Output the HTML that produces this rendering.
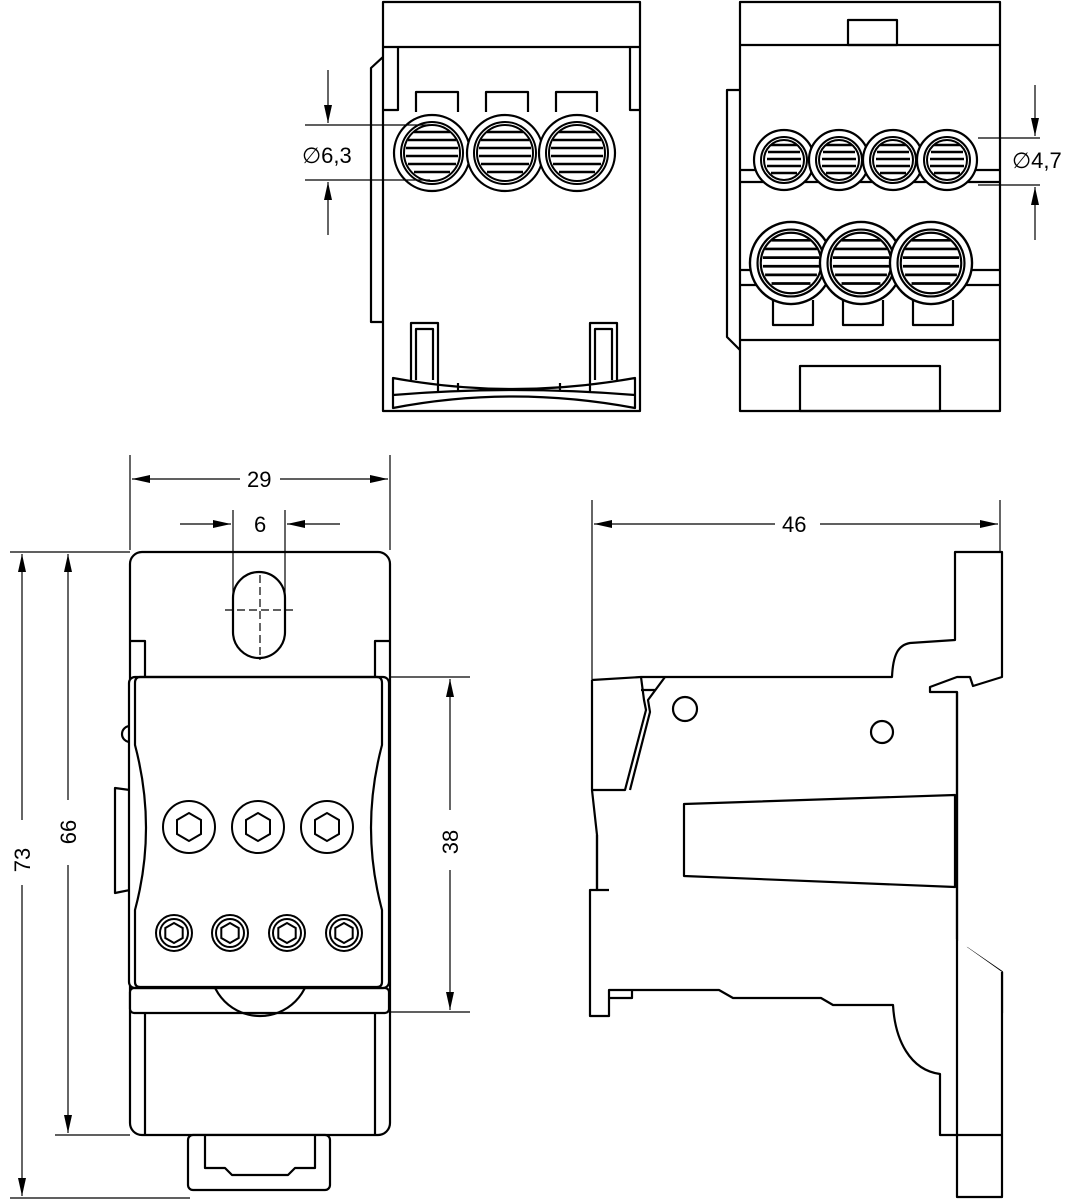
<!DOCTYPE html>
<html><head><meta charset="utf-8"><style>
html,body{margin:0;padding:0;background:#fff;width:1066px;height:1200px;overflow:hidden}
svg{display:block}
text{font-family:"Liberation Sans",sans-serif;font-size:22px;fill:#000}
</style></head><body>
<svg width="1066" height="1200" viewBox="0 0 1066 1200" xmlns="http://www.w3.org/2000/svg">
<defs>
<marker id="a" viewBox="0 0 18 10" refX="18" refY="5" markerWidth="18" markerHeight="10" markerUnits="userSpaceOnUse" orient="auto-start-reverse"><path d="M0,1 L18,5 L0,9 z" fill="#000"/></marker>
<g id="hole">
<circle r="38" fill="#fff" stroke="#000" stroke-width="2.2"/>
<circle r="31" fill="none" stroke="#000" stroke-width="2"/>
<circle r="28" fill="none" stroke="#000" stroke-width="2"/>
<path d="M-24,-13H24M-26,-5H26M-26,3H26M-24,11H24M-18,19H18M-18,-21H18" stroke="#000" stroke-width="2.5"/>
</g>
<g id="hole2">
<circle r="30" fill="#fff" stroke="#000" stroke-width="2.2"/>
<circle r="23" fill="none" stroke="#000" stroke-width="2"/>
<circle r="20" fill="none" stroke="#000" stroke-width="2"/>
<path d="M-16,-8H16M-17,-1H17M-17,6H17M-13,13H13M-13,-15H13" stroke="#000" stroke-width="2.5"/>
</g>
<g id="hexB"><circle r="26" fill="#fff" stroke="#000" stroke-width="2"/><polygon points="14,0 7,12 -7,12 -14,0 -7,-12 7,-12" transform="rotate(90)" fill="none" stroke="#000" stroke-width="2"/></g>
<g id="hexS"><circle r="18" fill="#fff" stroke="#000" stroke-width="2"/><circle r="14" fill="none" stroke="#000" stroke-width="2"/><polygon points="10,0 5,8.7 -5,8.7 -10,0 -5,-8.7 5,-8.7" transform="rotate(90)" fill="none" stroke="#000" stroke-width="2"/></g>
</defs>
<g fill="none" stroke="#000" stroke-width="2.2" stroke-linejoin="round">
<!-- top-left view -->
<path d="M383,57L371,68V322H383" fill="#fff"/>
<rect x="383" y="2" width="257" height="409" fill="#fff"/>
<line x1="383" y1="47" x2="640" y2="47"/>
<path d="M383,110H398V47M640,110H630V47"/>
<path d="M416,112V92H458V112M486,112V92H528V112M556,112V92H597V112"/>
<path d="M411,380V323H438V380M416,380V329H433V380M590,380V323H617V380M595,380V329H612V380"/>
<path d="M393,378Q512,400 635,378V408Q512,385 393,408Z M393,395Q512,385 635,395M438,380V392M458,383V392M560,383V392M590,380V392"/>
<!-- top-right view -->
<path d="M740,90H727V337L740,350" fill="#fff"/>
<rect x="740" y="2" width="260" height="409" fill="#fff"/>
<line x1="740" y1="45" x2="1000" y2="45"/>
<rect x="848" y="20" width="49" height="25"/>
<path d="M740,170H1000M740,182H1000M740,270H1000M740,285H1000"/>
<path d="M773,300V325H813V300M843,300V325H883V300M913,300V325H953V300"/>
<line x1="740" y1="340" x2="1000" y2="340"/>
<rect x="800" y="366" width="140" height="45"/>
<!-- bottom-left view -->
<rect x="130" y="552" width="260" height="583" rx="12" fill="#fff"/>
<rect x="188" y="1135" width="142" height="55" rx="5" fill="#fff"/>
<path d="M205,1135V1168H225L232,1175H288L295,1168H315V1135"/>
<rect x="233" y="572" width="52" height="86" rx="26"/>
<path d="M130,641H145V677M390,641H375V677M145,1013V1135M375,1013V1135"/>
<path d="M115,788L130,790V890L115,893Z" fill="#fff"/>
<path d="M130,790H145V890H130M390,790H375V890H390"/>
<rect x="130" y="988" width="259" height="25" rx="4" fill="#fff"/>
<circle cx="260" cy="966" r="50"/>
<rect x="129" y="677" width="260" height="311" rx="6" fill="#fff"/>
<path d="M140,677H377Q382,677 382,683V745Q360,828 382,910V982Q382,987 377,987H140Q135,987 135,982V910Q157,828 135,745V683Q135,677 140,677Z"/>
<path d="M130,726A8,8 0 0 0 130,742"/>
<!-- bottom-right view -->
<path d="M592,680L641,677L892,677C893,655 898,645 910,643L955,640L955,552L1002,552L1002,677L973,686L970,677L957,677L930,687L930,692L957,692L957,1013H1002V972L967,948V1013M961,1013V972H970V1013" fill="#fff"/>
<path d="M1002,972V1197H957V1135H940V1074C910,1070 895,1040 893,1005L833,1005L821,998L733,998L719,990L609,990V1016H590V890H597V835L592,790V680" fill="#fff"/>
<path d="M609,998H632V990"/>
<path d="M957,1013V1135H1002M957,692V1013"/>
<path d="M592,790H597L625,790L646,710L644,700L641,677M630,790L650,712L648,700L665,677M641,690H655"/>
<path d="M597,835V890H609"/>
<polygon points="684,804 955,795 955,887 684,876" fill="#fff"/>
<circle cx="685" cy="709" r="12"/>
<circle cx="882" cy="732" r="11"/>
</g>
<use href="#hole" x="432" y="153"/><use href="#hole" x="505" y="153"/><use href="#hole" x="577" y="153"/>
<use href="#hole2" x="784" y="160"/><use href="#hole2" x="839" y="160"/><use href="#hole2" x="893" y="160"/><use href="#hole2" x="947" y="160"/>
<use href="#hole" x="791" y="263" transform="translate(791,263) scale(1.08) translate(-791,-263)"/>
<use href="#hole" x="861" y="263" transform="translate(861,263) scale(1.08) translate(-861,-263)"/>
<use href="#hole" x="931" y="263" transform="translate(931,263) scale(1.08) translate(-931,-263)"/>
<use href="#hexB" x="189" y="827"/><use href="#hexB" x="258" y="827"/><use href="#hexB" x="327" y="827"/>
<use href="#hexS" x="174" y="933"/><use href="#hexS" x="230" y="933"/><use href="#hexS" x="287" y="933"/><use href="#hexS" x="344" y="933"/>
<!-- dimensions -->
<g stroke="#000" stroke-width="1.2" fill="none">
<path d="M305,125H430M305,180H430M978,138H1040M978,185H1040"/>
<path d="M328,70V123" marker-end="url(#a)"/><path d="M328,235V182" marker-end="url(#a)"/>
<path d="M1035,85V136" marker-end="url(#a)"/><path d="M1035,240V187" marker-end="url(#a)"/>
<path d="M130,455V550M390,455V550M233,510V600M285,510V600"/>
<path d="M132,479H240M280,479H388" marker-start="url(#a)" marker-end="url(#a)"/>
<path d="M180,524H231" marker-end="url(#a)"/><path d="M340,524H287" marker-end="url(#a)"/>
<path d="M592,500V680M1000,500V552"/>
<path d="M594,524H775M820,524H998" marker-start="url(#a)" marker-end="url(#a)"/>
<path d="M10,552H130M10,1198H190M55,1135H130M390,677H470M390,1012H470"/>
<path d="M22,554V820M22,885V1196" marker-start="url(#a)" marker-end="url(#a)"/>
<path d="M68,554V800M68,865V1133" marker-start="url(#a)" marker-end="url(#a)"/>
<path d="M450,679V810M450,870V1010" marker-start="url(#a)" marker-end="url(#a)"/>
<path d="M260,575V660M225,610H295" stroke-dasharray="8,4"/>
</g>
<text x="302" y="163">∅6,3</text>
<text x="1012" y="168">∅4,7</text>
<text x="247" y="487">29</text>
<text x="254" y="532">6</text>
<text x="782" y="532">46</text>
<text transform="translate(30,860) rotate(-90)" text-anchor="middle">73</text>
<text transform="translate(76,832) rotate(-90)" text-anchor="middle">66</text>
<text transform="translate(458,842) rotate(-90)" text-anchor="middle">38</text>
</svg>
</body></html>
